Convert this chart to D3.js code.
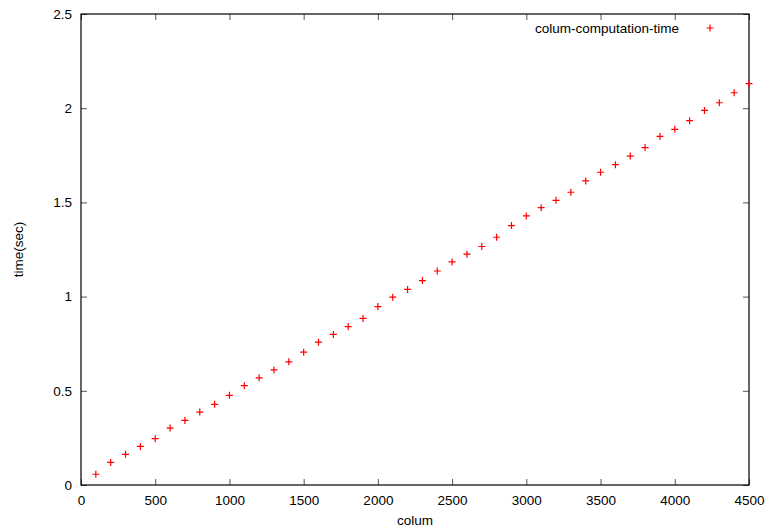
<!DOCTYPE html>
<html>
<head>
<meta charset="utf-8">
<script src="https://cdn.jsdelivr.net/npm/d3@7"></script>
<style>
  body { margin: 0; background: #fff; }
  svg text { font-family: "Liberation Sans", Arial, sans-serif; font-size: 13.5px; fill: #000; }
</style>
</head>
<body>
<svg id="chart" width="769" height="531"></svg>
<script>
// columns (x) and measured time (y)
const columns = [100, 200, 300, 400, 500, 600, 700, 800, 900, 1000,
  1100, 1200, 1300, 1400, 1500, 1600, 1700, 1800, 1900, 2000,
  2100, 2200, 2300, 2400, 2500, 2600, 2700, 2800, 2900, 3000,
  3100, 3200, 3300, 3400, 3500, 3600, 3700, 3800, 3900, 4000,
  4100, 4200, 4300, 4400, 4500];
const times = [0.057, 0.120, 0.163, 0.205, 0.246, 0.302, 0.343, 0.387, 0.428, 0.476,
  0.527, 0.569, 0.611, 0.654, 0.705, 0.758, 0.799, 0.841, 0.884, 0.947,
  0.997, 1.038, 1.085, 1.136, 1.184, 1.225, 1.266, 1.315, 1.377, 1.428,
  1.472, 1.511, 1.554, 1.614, 1.660, 1.700, 1.746, 1.791, 1.850, 1.888,
  1.934, 1.988, 2.029, 2.082, 2.130];
const xTicks = [0, 500, 1000, 1500, 2000, 2500, 3000, 3500, 4000, 4500];
const yTicks = [0, 0.5, 1, 1.5, 2, 2.5];
const seriesName = "colum-computation-time";

const svg = d3.select("#chart");
const margin = { left: 81, right: 20, top: 14, bottom: 46 };
const W = 769, H = 531;

const x = d3.scaleLinear().domain([0, 4500]).range([margin.left, W - margin.right]);
const y = d3.scaleLinear().domain([0, 2.5]).range([H - margin.bottom, margin.top]);

const tickLen = 6;

// bottom axis (ticks pointing inward) + mirrored top ticks
const xAxis = svg.append("g")
  .attr("transform", `translate(0,${y(0)})`)
  .call(d3.axisBottom(x).tickValues(xTicks).tickSize(-tickLen).tickPadding(10).tickFormat(d3.format("d")));
const xTop = svg.append("g")
  .attr("transform", `translate(0,${y(2.5)})`)
  .call(d3.axisTop(x).tickValues(xTicks).tickSize(-tickLen).tickFormat(""));

const yAxis = svg.append("g")
  .attr("transform", `translate(${x(0)},0)`)
  .call(d3.axisLeft(y).tickValues(yTicks).tickSize(-tickLen).tickPadding(9).tickFormat(d => d));
const yRight = svg.append("g")
  .attr("transform", `translate(${x(4500)},0)`)
  .call(d3.axisRight(y).tickValues(yTicks).tickSize(-tickLen).tickFormat(""));

[xAxis, xTop, yAxis, yRight].forEach(g => {
  g.select(".domain").remove();
  g.selectAll(".tick line").attr("stroke", "#555").attr("stroke-width", 1);
  g.selectAll("text").attr("font-size", null).attr("font-family", null);
});

// frame
svg.append("rect")
  .attr("x", x(0)).attr("y", y(2.5))
  .attr("width", x(4500) - x(0)).attr("height", y(0) - y(2.5))
  .attr("fill", "none").attr("stroke", "#000").attr("stroke-width", 1.2);

// axis labels
svg.append("text")
  .attr("x", (x(0) + x(4500)) / 2).attr("y", H - 6)
  .attr("text-anchor", "middle").text("colum");
svg.append("text")
  .attr("transform", `translate(23,${(y(0) + y(2.5)) / 2}) rotate(-90)`)
  .attr("text-anchor", "middle").text("time(sec)");

// points as plus signs
const s = 3.5;
const plus = `M${-s},0H${s}M0,${-s}V${s}`;
svg.append("g").selectAll("path")
  .data(columns.map((c, i) => [c, times[i]]))
  .join("path")
  .attr("transform", d => `translate(${x(d[0])},${y(d[1])})`)
  .attr("d", plus)
  .attr("stroke", "#ff0000").attr("stroke-width", 1.2).attr("fill", "none");

// legend
svg.append("text")
  .attr("x", 679).attr("y", 28).attr("dy", "0.35em")
  .attr("text-anchor", "end").text(seriesName);
svg.append("path")
  .attr("transform", "translate(710,28)")
  .attr("d", plus)
  .attr("stroke", "#ff0000").attr("stroke-width", 1.2).attr("fill", "none");
</script>
</body>
</html>
